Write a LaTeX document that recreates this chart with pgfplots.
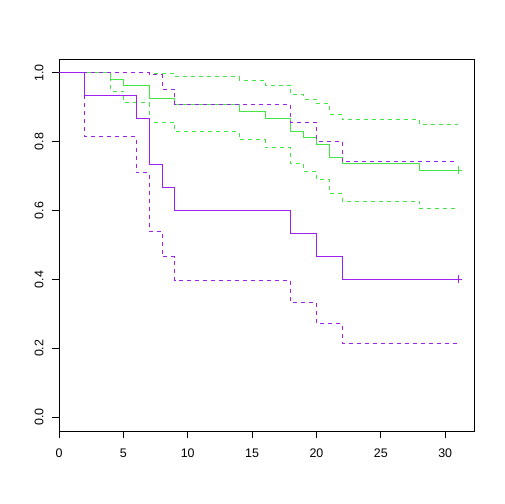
\documentclass[border=0pt]{standalone}
\usepackage{fontspec}
\setmainfont{Liberation Sans}
\usepackage{pgfplots}
\pgfplotsset{compat=1.18}
\definecolor{kmgreen}{RGB}{70,230,70}
\definecolor{kmpurple}{RGB}{160,32,240}
\begin{document}
\begin{tikzpicture}[x=1bp,y=1bp]
\useasboundingbox (0,0) rectangle (504,504);
\begin{axis}[
  at={(59bp,73bp)}, anchor=south west,
  scale only axis, width=415bp, height=372bp,
  xmin=0, xmax=32.24, ymin=-0.04, ymax=1.04,
  axis line style={line width=0.75bp},
  tick align=outside, major tick length=7bp,
  tick style={line width=0.75bp, black},
  xtick={0,5,10,15,20,25,30},
  ytick={0,0.2,0.4,0.6,0.8,1.0},
  yticklabels={0.0,0.2,0.4,0.6,0.8,1.0},
  xtick pos=bottom, ytick pos=left,
  /pgf/number format/assume math mode=true,
  ticklabel style={font=\fontsize{12.5}{14}\selectfont},
  yticklabel style={rotate=90, anchor=south, yshift=5bp},
  xticklabel style={anchor=north, yshift=-7bp},
  every axis plot/.append style={line width=0.75bp},
]
% green stratum
\addplot[kmgreen, const plot, mark=none] coordinates {
(0,1) (4,0.982) (5,0.963) (7,0.926) (9,0.907) (14,0.888) (16,0.869) (18,0.831) (19,0.812) (20,0.793) (21,0.755) (22,0.736) (28,0.717) (31,0.717)};
\addplot[kmgreen, const plot, mark=none, dash pattern=on 4bp off 4bp] coordinates {
(0,1) (7,0.998) (9,0.989) (14,0.979) (16,0.964) (18,0.937) (19,0.924) (20,0.910) (21,0.880) (22,0.864) (28,0.849) (31,0.849)};
\addplot[kmgreen, const plot, mark=none, dash pattern=on 4bp off 4bp] coordinates {
(0,1) (4,0.947) (5,0.913) (7,0.857) (9,0.830) (14,0.806) (16,0.782) (18,0.737) (19,0.713) (20,0.690) (21,0.649) (22,0.627) (28,0.606) (31,0.606)};
\addplot[kmgreen, only marks, mark=+, mark size=4bp] coordinates {(31,0.717)};
% purple stratum
\addplot[kmpurple, const plot, mark=none] coordinates {
(0,1) (2,0.9333) (6,0.8667) (7,0.7333) (8,0.6667) (9,0.6) (18,0.5333) (20,0.4667) (22,0.4) (31,0.4)};
\addplot[kmpurple, const plot, mark=none, dash pattern=on 4bp off 4bp] coordinates {
(0,1) (7,0.995) (8,0.953) (9,0.907) (18,0.856) (20,0.802) (22,0.743) (31,0.743)};
\addplot[kmpurple, const plot, mark=none, dash pattern=on 4bp off 4bp] coordinates {
(0,1) (2,0.815) (6,0.711) (7,0.540) (8,0.466) (9,0.397) (18,0.332) (20,0.272) (22,0.215) (31,0.215)};
\addplot[kmpurple, only marks, mark=+, mark size=4bp] coordinates {(31,0.4)};
\end{axis}
\end{tikzpicture}
\end{document}
